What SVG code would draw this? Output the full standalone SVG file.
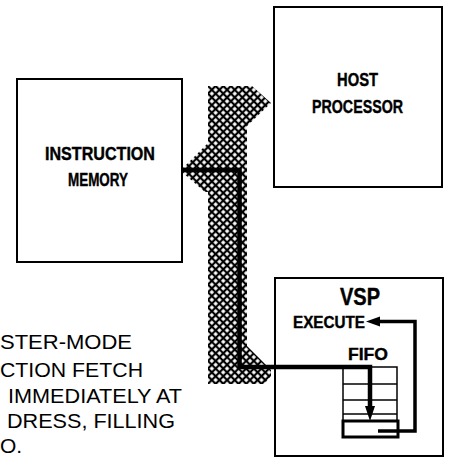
<svg xmlns="http://www.w3.org/2000/svg" width="449" height="459" viewBox="0 0 449 459">
<defs>
<pattern id="hatch" patternUnits="userSpaceOnUse" width="5.4" height="5.4" patternTransform="translate(208,86) rotate(45)">
<rect width="5.4" height="5.4" fill="#000"/>
<rect x="1.1" y="1.1" width="3.2" height="3.2" fill="#fff"/>
</pattern>
</defs>
<style>
.box{fill:#fff;stroke:#000;stroke-width:2}
.lbl{font-family:"Liberation Sans",Arial,sans-serif;font-weight:bold;fill:#000;stroke:#000;stroke-width:0.4;text-anchor:middle}
.note{font-family:"Liberation Sans",Arial,sans-serif;font-size:21px;fill:#000}
.wire{fill:none;stroke:#000;stroke-linejoin:miter;stroke-linecap:butt}
.grid{fill:none;stroke:#000;stroke-width:1.5}
</style>
<rect width="449" height="459" fill="#fff"/>

<g id="bus">
<polygon fill="url(#hatch)" points="208,86 252,86 271,103 247,126 247,346 271,370 271,376 264,384 208,384 208,192 205,192 183,173 183,168 208,143"/>
</g>

<g id="instruction-memory">
<rect class="box" x="17" y="79" width="165" height="183"/>
<text class="lbl" x="100" y="160" font-size="18" textLength="110" lengthAdjust="spacingAndGlyphs">INSTRUCTION</text>
<text class="lbl" x="98" y="186" font-size="18" textLength="60" lengthAdjust="spacingAndGlyphs">MEMORY</text>
</g>

<g id="host-processor">
<rect class="box" x="274" y="7" width="168" height="180"/>
<text class="lbl" x="357.5" y="86" font-size="18" textLength="41" lengthAdjust="spacingAndGlyphs">HOST</text>
<text class="lbl" x="357.5" y="113" font-size="18" textLength="91" lengthAdjust="spacingAndGlyphs">PROCESSOR</text>
</g>

<g id="vsp">
<rect class="box" x="275" y="278" width="168" height="178"/>
<text class="lbl" x="360" y="305" font-size="23" textLength="40" lengthAdjust="spacingAndGlyphs">VSP</text>
<text class="lbl" x="329" y="328" font-size="16" textLength="72" lengthAdjust="spacingAndGlyphs">EXECUTE</text>
<text class="lbl" x="368" y="360" font-size="17" textLength="40" lengthAdjust="spacingAndGlyphs">FIFO</text>
</g>

<g id="fifo">
<rect class="grid" x="343" y="367" width="54" height="54"/>
<line class="grid" x1="343" y1="384" x2="397" y2="384"/>
<line class="grid" x1="343" y1="400" x2="397" y2="400"/>
<line class="grid" x1="343" y1="414" x2="397" y2="414"/>
<line class="grid" x1="370" y1="367" x2="370" y2="414"/>
<rect x="343" y="421" width="55" height="16" fill="#fff" stroke="#000" stroke-width="3"/>
</g>

<g id="connectors">
<path class="wire" stroke-width="4.5" d="M182,170 H239.5 V367 H370 V408"/>
<polygon points="365,406 375,406 370,421" fill="#000"/>
<path class="wire" stroke-width="3.5" d="M378,431 H415 V321.5 H379"/>
<polygon points="380,316.5 380,326.5 366,321.5" fill="#000"/>
</g>

<g id="caption">
<text class="note" x="0" y="349" textLength="132" lengthAdjust="spacingAndGlyphs">STER-MODE</text>
<text class="note" x="0" y="377" textLength="143" lengthAdjust="spacingAndGlyphs">CTION FETCH</text>
<text class="note" x="8" y="403" textLength="174" lengthAdjust="spacingAndGlyphs">IMMEDIATELY AT</text>
<text class="note" x="7" y="428" textLength="168" lengthAdjust="spacingAndGlyphs">DRESS, FILLING</text>
<text class="note" x="0" y="453">O.</text>
</g>
</svg>
